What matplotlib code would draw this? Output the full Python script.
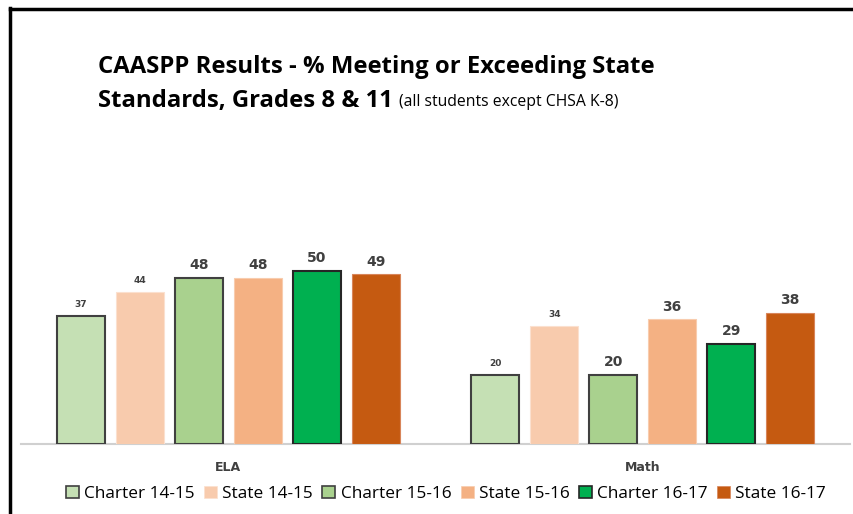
import matplotlib
matplotlib.use("Agg")
import matplotlib.pyplot as plt
from matplotlib.patches import Patch
from matplotlib import font_manager
import numpy as np

categories = ["ELA", "Math"]
series = ["Charter 14-15", "State 14-15", "Charter 15-16", "State 15-16", "Charter 16-17", "State 16-17"]
charter_1415 = [37, 20]
state_1415 = [44, 34]
charter_1516 = [48, 20]
state_1516 = [48, 36]
charter_1617 = [50, 29]
state_1617 = [49, 38]
values = [charter_1415, state_1415, charter_1516, state_1516, charter_1617, state_1617]
colors = ["#C5E0B4", "#F8CBAD", "#A9D18E", "#F4B183", "#00B050", "#C55A11"]
edges = ["#404040", "#FBE0CF", "#404040", "#F8CCAE", "#262626", "#D8855A"]
small_labels = {(0, 0), (1, 0), (0, 1), (1, 1)}  # (series, category) with small font

avail = {f.name for f in font_manager.fontManager.ttflist}
narrow = "Liberation Sans Narrow" if "Liberation Sans Narrow" in avail else "Open Sans"
plt.rcParams["font.family"] = [narrow, "DejaVu Sans"]

W, H = 854, 514
fig = plt.figure(figsize=(W / 100, H / 100), dpi=100)

# frame lines (left and top)
fig.add_artist(plt.Line2D([10 / W, 10 / W], [0, 1 - 8 / H], color="black", lw=2.5, transform=fig.transFigure))
fig.add_artist(plt.Line2D([10 / W, 1], [1 - 9 / H, 1 - 9 / H], color="black", lw=2.5, transform=fig.transFigure))

px_per_unit = 3.46
ymax = 60
ax_left, ax_right = 21 / W, 850 / W
ax_bottom = (H - 444) / H
ax_h = ymax * px_per_unit / H
ax = fig.add_axes([ax_left, ax_bottom, ax_right - ax_left, ax_h])
ax.set_xlim(-0.5, 1.5)
ax.set_ylim(0, ymax)

x = np.arange(len(categories))
pitch = 59 / 415
width = 48 / 415
for i, (vals, c, ec) in enumerate(zip(values, colors, edges)):
    offs = (i - 2.5) * pitch
    lw = 1.5 if i % 2 == 0 else 0.8
    bars = ax.bar(x + offs, vals, width=width, color=c, edgecolor=ec, linewidth=lw, label=series[i], zorder=3)
    for j, (b, v) in enumerate(zip(bars, vals)):
        if (i, j) in small_labels:
            ax.annotate(str(v), (b.get_x() + b.get_width() / 2, v), xytext=(0, 5), textcoords="offset points",
                        ha="center", va="bottom", fontsize=6.5, fontweight="bold", color="#404040",
                        family="DejaVu Sans", annotation_clip=False)
        else:
            ax.annotate(str(v), (b.get_x() + b.get_width() / 2, v), xytext=(0, 4), textcoords="offset points",
                        ha="center", va="bottom", fontsize=10, fontweight="bold", color="#404040",
                        family="DejaVu Sans", annotation_clip=False)

for s in ["top", "right", "left"]:
    ax.spines[s].set_visible(False)
ax.spines["bottom"].set_color("#D0D0D0")
ax.spines["bottom"].set_linewidth(1.5)
ax.set_yticks([])
ax.set_xticks(x)
ax.set_xticklabels(categories, fontsize=9, fontweight="bold", color="#404040", family="DejaVu Sans")
ax.tick_params(axis="x", length=0, pad=12)

# title
fig.text(98 / W, 1 - 67 / H, "CAASPP Results - % Meeting or Exceeding State", fontsize=17.2,
         fontweight="bold", ha="left", va="center", color="black")
t2 = fig.text(98 / W, 1 - 101 / H, "Standards, Grades 8 & 11", fontsize=17.2,
              fontweight="bold", ha="left", va="center", color="black")
fig.canvas.draw()
bb = t2.get_window_extent()
fig.text((bb.x1 + 6) / W, 1 - 102 / H, "(all students except CHSA K-8)", fontsize=11.3,
         ha="left", va="center", color="black")

handles = [Patch(facecolor=c, edgecolor=ec, linewidth=(1.2 if i % 2 == 0 else 0.5))
           for i, (c, ec) in enumerate(zip(colors, edges))]
fig.legend(handles, series, loc="center", bbox_to_anchor=(446 / W, 1 - 494 / H), ncol=6, frameon=False,
           fontsize=12.4, handlelength=0.75, handleheight=0.75, handletextpad=0.3, columnspacing=0.55,
           borderpad=0, borderaxespad=0)

fig.savefig("out.png", dpi=100)
